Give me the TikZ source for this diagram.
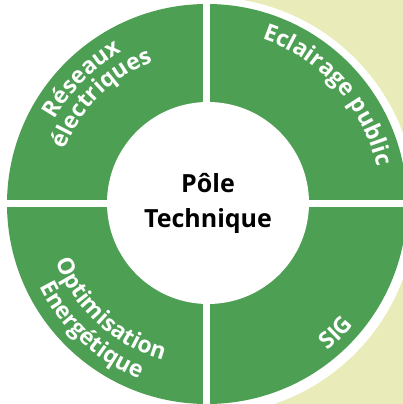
\documentclass[tikz,border=0pt]{standalone}
\usepackage{fontspec}
\setsansfont{Open Sans}
\usetikzlibrary{decorations.text}
\definecolor{ringgreen}{RGB}{77,159,84}
\definecolor{paleback}{RGB}{233,236,185}
\newcommand\lblfont{\sffamily\bfseries\fontsize{23}{27}\selectfont}

\begin{document}
\begin{tikzpicture}[
  x=1pt, y=1pt,
  ring/.style={fill=ringgreen, even odd rule},
  gap/.style={draw=white, line width=7pt},
  arclabel/.style={decorate, decoration={text along path, text align=center, text color=white}}
]
  \useasboundingbox (-207,-200) rectangle (196,204);
  \clip (-207,-200) rectangle (196,204);
  \fill[paleback] (23,-200) rectangle (196,204);
  \fill[white] (0,-2) circle[radius=209];
  \fill[ring] (0,0) circle[radius=200];
  \draw[gap] (-0.5,-201) -- (-0.5,201);
  \draw[gap] (-201,0.5) -- (201,0.5);
  \node[circle, fill=white, minimum size=202pt, inner sep=0pt, align=center,
    font=\sffamily\bfseries\fontsize{25}{35}\selectfont] (pole) at (1,1) {Pôle\\Technique};
  % labels along the ring
  \path[arclabel, decoration={text={|\lblfont|Réseaux}}] (160:174) arc[start angle=160, end angle=110, radius=174];
  \path[arclabel, decoration={text={|\lblfont|électriques}}] (165:152) arc[start angle=165, end angle=105, radius=152];
  \path[arclabel, decoration={text={|\lblfont|Eclairage public}}] (84:174) arc[start angle=84, end angle=0, radius=174];
  \path[arclabel, decoration={text={|\lblfont|Optimisation}}] (195:162) arc[start angle=195, end angle=260, radius=162];
  \path[arclabel, decoration={text={|\lblfont|Energétique}}] (195:187) arc[start angle=195, end angle=260, radius=187];
  \path[arclabel, decoration={text={|\lblfont|SIG}}] (-65:190) arc[start angle=-65, end angle=-25, radius=190];
\end{tikzpicture}
\end{document}
